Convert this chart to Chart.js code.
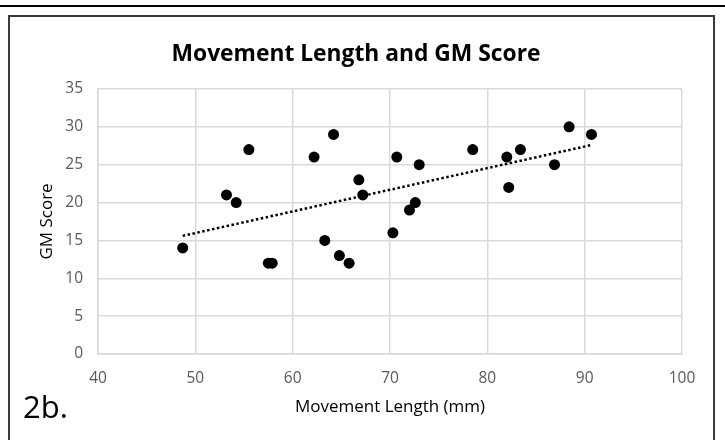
<!DOCTYPE html>
<html>
<head>
<meta charset="utf-8">
<script src="https://cdn.jsdelivr.net/npm/chart.js@4/dist/chart.umd.min.js"></script>
<style>
    html, body { margin: 0; padding: 0; background: #fff; }
    #wrap { position: relative; width: 725px; height: 440px; overflow: hidden; }
    #grafico { position: absolute; left: 0; top: 0; }
    .linhaTopo { position: absolute; left: 0; top: 5px; width: 725px; height: 2px; background: #000; }
    .caixa { position: absolute; left: 8px; top: 15px; width: 707px; height: 440px; border: 2px solid #3a3a3a; box-sizing: border-box; pointer-events: none; }
    .rotulo { position: absolute; left: 23px; top: 385px; font-family: "Open Sans", sans-serif; font-size: 31px; color: #000; }
</style>
</head>
<body>
<div id="wrap">
    <canvas id="grafico" width="725" height="440"></canvas>
    <div class="linhaTopo"></div>
    <div class="caixa"></div>
    <div class="rotulo">2b.</div>
</div>
<script>
// Dados
const comprimento = [48.7, 53.2, 54.2, 55.5, 57.5, 57.9, 62.2, 63.3, 64.2, 64.8, 65.8, 66.8, 67.2,
                     70.3, 70.7, 72.0, 72.6, 73.0, 78.5, 82.0, 82.2, 83.4, 86.9, 88.4, 90.7];
const pontuacao = [14, 21, 20, 27, 12, 12, 26, 15, 29, 13, 12, 23, 21,
                   16, 26, 19, 20, 25, 27, 26, 22, 27, 25, 30, 29];

// Linha de tendência (extremos)
const tendenciaX = [48.7, 90.7];
const tendenciaY = [15.6, 27.6];

// Marcas dos eixos
const ticksX = [40, 50, 60, 70, 80, 90, 100];
const ticksY = [0, 5, 10, 15, 20, 25, 30, 35];

const corGrade = '#d9d9d9';
const corTexto = '#595959';
const fonte = '"Open Sans", sans-serif';

const pontos = comprimento.map((x, i) => ({ x: x, y: pontuacao[i] }));
const tendencia = tendenciaX.map((x, i) => ({ x: x, y: tendenciaY[i] }));

const ctx = document.getElementById('grafico').getContext('2d');

new Chart(ctx, {
    type: 'scatter',
    data: {
        datasets: [{
            data: pontos,
            backgroundColor: '#000',
            borderWidth: 0,
            pointRadius: 5.5,
            pointHoverRadius: 5.5,
            order: 1
        }, {
            type: 'line',
            data: tendencia,
            borderColor: '#000',
            borderWidth: 2.5,
            borderDash: [2.5, 2.5],
            pointRadius: 0,
            fill: false,
            order: 2
        }]
    },
    options: {
        responsive: false,
        animation: false,
        layout: {
            padding: { left: 30, right: 43, top: 0, bottom: 0 }
        },
        plugins: {
            legend: { display: false },
            tooltip: { enabled: false },
            title: {
                display: true,
                text: 'Movement Length and GM Score',
                color: '#000',
                font: { family: fonte, size: 22.8, weight: 'bold' },
                padding: { top: 41, bottom: 20.6 }
            }
        },
        scales: {
            x: {
                type: 'linear',
                min: ticksX[0],
                max: ticksX[ticksX.length - 1],
                afterBuildTicks: (eixo) => { eixo.ticks = ticksX.map(v => ({ value: v })); },
                afterFit: (eixo) => { eixo.height = 86; },
                grid: { color: corGrade, lineWidth: 1.5, drawTicks: false },
                border: { color: corGrade, width: 1.5 },
                ticks: { color: corTexto, font: { family: fonte, size: 15.5 }, padding: 15 },
                title: {
                    display: true,
                    text: 'Movement Length (mm)',
                    color: '#000',
                    font: { family: fonte, size: 17 },
                    padding: { top: 4, bottom: 23 }
                }
            },
            y: {
                type: 'linear',
                min: ticksY[0],
                max: ticksY[ticksY.length - 1],
                afterBuildTicks: (eixo) => { eixo.ticks = ticksY.map(v => ({ value: v })); },
                afterFit: (eixo) => { eixo.width = 68; },
                grid: { color: corGrade, lineWidth: 1.5, drawTicks: false },
                border: { color: corGrade, width: 1.5 },
                ticks: { color: corTexto, font: { family: fonte, size: 15.5 }, padding: 15 },
                title: {
                    display: true,
                    text: 'GM Score',
                    color: '#000',
                    font: { family: fonte, size: 17 },
                    padding: { top: 7, bottom: 4 }
                }
            }
        }
    }
});
</script>
</body>
</html>
